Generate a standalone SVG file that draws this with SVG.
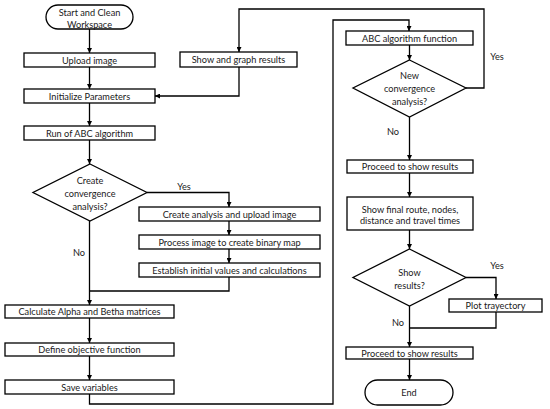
<svg xmlns="http://www.w3.org/2000/svg" width="550" height="409" viewBox="0 0 550 409">
<defs>
<marker id="arr" viewBox="0 0 10 10" refX="10" refY="5" markerWidth="5" markerHeight="5" orient="auto" markerUnits="userSpaceOnUse">
<path d="M0,0 L10,5 L0,10 z" fill="#000"/>
</marker>
<style>
.b{fill:#fff;stroke:#000;stroke-width:1.3}
.c{fill:none;stroke:#000;stroke-width:1.3}
text{font-family:Lato,"Liberation Sans",sans-serif;font-size:9.2px;fill:#1a1a1a;text-anchor:middle;dominant-baseline:central}
</style>
</defs>
<rect width="550" height="409" fill="#fff"/>
<g id="connectors">
<path class="c" d="M89.5,29 V53" marker-end="url(#arr)"/>
<path class="c" d="M89.5,67 V89" marker-end="url(#arr)"/>
<path class="c" d="M89.5,103 V126" marker-end="url(#arr)"/>
<path class="c" d="M89.5,140 V164" marker-end="url(#arr)"/>
<path class="c" d="M239,67 V96 H155" marker-end="url(#arr)"/>
<path class="c" d="M466,88 H484 V9 H239 V52" marker-end="url(#arr)"/>
<path class="c" d="M147,192.5 H229 V207" marker-end="url(#arr)"/>
<path class="c" d="M229,221 V235" marker-end="url(#arr)"/>
<path class="c" d="M229,249 V263" marker-end="url(#arr)"/>
<path class="c" d="M229,277 V291 H89.5"/>
<path class="c" d="M89.5,221 V305" marker-end="url(#arr)"/>
<path class="c" d="M89.5,318 V343" marker-end="url(#arr)"/>
<path class="c" d="M89.5,356 V380" marker-end="url(#arr)"/>
<path class="c" d="M89.5,394 V404 H333 V20 H409 V31" marker-end="url(#arr)"/>
<path class="c" d="M409.5,45 V60" marker-end="url(#arr)"/>
<path class="c" d="M409.5,117 V160" marker-end="url(#arr)"/>
<path class="c" d="M409.5,173 V197" marker-end="url(#arr)"/>
<path class="c" d="M409.5,230 V249" marker-end="url(#arr)"/>
<path class="c" d="M466,277.5 H496 V299" marker-end="url(#arr)"/>
<path class="c" d="M496,312 V328 H409.5"/>
<path class="c" d="M409.5,306 V347" marker-end="url(#arr)"/>
<path class="c" d="M409.5,359 V380" marker-end="url(#arr)"/>
<text x="184" y="186">Yes</text>
<text x="79" y="252">No</text>
<text x="497" y="56">Yes</text>
<text x="393" y="131">No</text>
<text x="497" y="265">Yes</text>
<text x="398" y="322">No</text>
</g>
<g id="start"><rect class="b" x="46" y="5" width="87" height="24" rx="12"/><text x="89.5" y="12">Start and Clean</text><text x="89.5" y="24">Workspace</text></g>
<g id="upload"><rect class="b" x="24" y="53" width="131" height="14"/><text x="89.5" y="60">Upload image</text></g>
<g id="init"><rect class="b" x="24" y="89" width="131" height="14"/><text x="89.5" y="96">Initialize Parameters</text></g>
<g id="run"><rect class="b" x="24" y="126" width="131" height="14"/><text x="89.5" y="133">Run of ABC algorithm</text></g>
<g id="showgraph"><rect class="b" x="180" y="52" width="117" height="15"/><text x="238.5" y="59.5">Show and graph results</text></g>
<g id="create"><polygon class="b" points="90,164 147,192.5 90,221 33,192.5"/><text x="90" y="180">Create</text><text x="90" y="193">convergence</text><text x="90" y="206">analysis?</text></g>
<g id="analysis"><rect class="b" x="139" y="207" width="181" height="14"/><text x="229.5" y="214">Create analysis and upload image</text></g>
<g id="process"><rect class="b" x="139" y="235" width="181" height="14"/><text x="229.5" y="242">Process image to create binary map</text></g>
<g id="establish"><rect class="b" x="139" y="263" width="181" height="14"/><text x="229.5" y="270">Establish initial values and calculations</text></g>
<g id="alpha"><rect class="b" x="5" y="305" width="169" height="13"/><text x="89.5" y="311.5">Calculate Alpha and Betha matrices</text></g>
<g id="objective"><rect class="b" x="5" y="343" width="169" height="13"/><text x="89.5" y="349.5">Define objective function</text></g>
<g id="save"><rect class="b" x="5" y="380" width="169" height="14"/><text x="89.5" y="387">Save variables</text></g>
<g id="abcfunc"><rect class="b" x="346" y="31" width="127" height="14"/><text x="409.5" y="38">ABC algorithm function</text></g>
<g id="newconv"><polygon class="b" points="409.5,60 466,88 409.5,117 353,88"/><text x="409.5" y="75">New</text><text x="409.5" y="88">convergence</text><text x="409.5" y="101">analysis?</text></g>
<g id="proceed1"><rect class="b" x="347" y="160" width="126" height="13"/><text x="410" y="166.5">Proceed to show results</text></g>
<g id="final"><rect class="b" x="347" y="197" width="126" height="33"/><text x="410" y="209">Show final route, nodes,</text><text x="410" y="220">distance and travel times</text></g>
<g id="showres"><polygon class="b" points="409.5,249 466,277.5 409.5,306 353,277.5"/><text x="409.5" y="272">Show</text><text x="409.5" y="285">results?</text></g>
<g id="plot"><rect class="b" x="449" y="299" width="93" height="13"/><text x="495.5" y="305.5">Plot trayectory</text></g>
<g id="proceed2"><rect class="b" x="346" y="347" width="127" height="12"/><text x="409.5" y="353">Proceed to show results</text></g>
<g id="end"><rect class="b" x="365" y="380" width="88" height="25" rx="12.5"/><text x="409" y="392.5">End</text></g>
</svg>
